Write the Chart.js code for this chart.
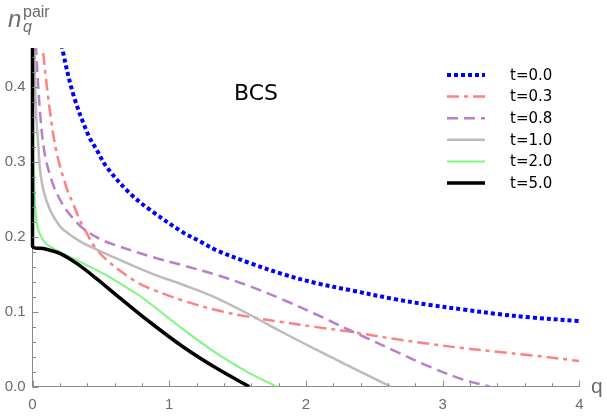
<!DOCTYPE html>
<html>
<head>
<meta charset="utf-8">
<script src="https://cdn.jsdelivr.net/npm/chart.js@4/dist/chart.umd.min.js"></script>
<style>
    body { margin: 0; background: #fff; }
    #wrap { width: 607px; height: 418px; }
</style>
</head>
<body>
<div id="wrap"><canvas id="myChart" width="607" height="418"></canvas></div>
<script>
/* ===============================
   DATA
=============================== */
const labels = ["t=0.0", "t=0.3", "t=0.8", "t=1.0", "t=2.0", "t=5.0"];

const q00 = [0.20, 0.218, 0.30, 0.408, 0.47, 0.543, 0.713, 0.86, 1.10, 1.225, 1.347, 1.59, 1.835, 2.08, 2.32, 2.66, 2.91, 3.15, 3.40, 3.64, 4.0];
const n00 = [0.475, 0.451, 0.389, 0.336, 0.316, 0.293, 0.258, 0.236, 0.206, 0.194, 0.182, 0.165, 0.150, 0.138, 0.129, 0.1165, 0.109, 0.103, 0.097, 0.0925, 0.0876];

const q03 = [0.065, 0.075, 0.128, 0.177, 0.25, 0.30, 0.347, 0.397, 0.445, 0.543, 0.74, 0.86, 1.10, 1.35, 1.59, 1.835, 2.08, 2.32, 2.42, 2.66, 2.91, 3.15, 3.40, 3.64, 4.0];
const n03 = [0.48, 0.451, 0.367, 0.312, 0.265, 0.243, 0.222, 0.205, 0.189, 0.169, 0.142, 0.131, 0.115, 0.102, 0.093, 0.086, 0.0795, 0.0735, 0.0705, 0.0635, 0.057, 0.0515, 0.0465, 0.042, 0.0343];

const q08 = [0.02, 0.026, 0.055, 0.091, 0.15, 0.20, 0.25, 0.32, 0.37, 0.494, 0.59, 0.86, 1.10, 1.35, 1.59, 1.835, 2.08, 2.176, 2.30, 2.42, 2.664, 2.908, 3.151, 3.347];
const n08 = [0.48, 0.451, 0.367, 0.309, 0.27, 0.25, 0.235, 0.22, 0.211, 0.197, 0.19, 0.174, 0.162, 0.149, 0.134, 0.116, 0.096, 0.088, 0.077, 0.067, 0.0465, 0.0265, 0.0095, 0.0];

const q10 = [0.008, 0.026, 0.043, 0.055, 0.08, 0.128, 0.20, 0.25, 0.347, 0.494, 0.86, 1.10, 1.35, 1.59, 1.835, 2.08, 2.20, 2.32, 2.42, 2.62];
const n10 = [0.48, 0.367, 0.32, 0.29, 0.262, 0.236, 0.214, 0.206, 0.194, 0.181, 0.152, 0.136, 0.118, 0.096, 0.072, 0.049, 0.038, 0.027, 0.018, 0.0];

const q20 = [0.002, 0.006, 0.015, 0.03, 0.055, 0.104, 0.20, 0.372, 0.567, 0.786, 0.86, 1.103, 1.347, 1.591, 1.786];
const n20 = [0.46, 0.30, 0.26, 0.22, 0.203, 0.19, 0.18, 0.1645, 0.146, 0.121, 0.111, 0.0765, 0.0445, 0.0178, 0.0];

const q50 = [0.0, 0.0, 0.079, 0.20, 0.323, 0.47, 0.616, 0.86, 1.103, 1.347, 1.586];
const n50 = [0.452, 0.188, 0.1845, 0.178, 0.1645, 0.144, 0.122, 0.086, 0.053, 0.0245, 0.0];

const xTicks = [0, 1, 2, 3, 4];
const yTicks = [0.0, 0.1, 0.2, 0.3, 0.4];

/* ===============================
   HELPERS
=============================== */
function pts(xs, ys) {
    return xs.map((x, i) => ({ x: x, y: ys[i] }));
}

const GRAY = "#6b6b6b";
const AXIS = "#8a8a8a";

/* ===============================
   PLUGINS
=============================== */
// inward tick marks, Mathematica style
const tickMarks = {
    id: "tickMarks",
    afterDraw(chart) {
        const c = chart.ctx;
        const xs = chart.scales.x;
        const ys = chart.scales.y;
        const area = chart.chartArea;
        c.save();
        c.strokeStyle = AXIS;
        c.lineWidth = 1;
        xs.ticks.forEach(t => {
            const px = Math.round(xs.getPixelForValue(t.value)) + 0.5;
            const major = xTicks.some(v => Math.abs(v - t.value) < 1e-6);
            c.beginPath();
            c.moveTo(px, area.bottom);
            c.lineTo(px, area.bottom - (major ? 6 : 3.5));
            c.stroke();
        });
        ys.ticks.forEach(t => {
            const py = Math.round(ys.getPixelForValue(t.value)) + 0.5;
            const major = yTicks.some(v => Math.abs(v - t.value) < 1e-6);
            c.beginPath();
            c.moveTo(area.left, py);
            c.lineTo(area.left + (major ? 6 : 3.5), py);
            c.stroke();
        });
        c.restore();
    }
};

// axis titles, BCS note and legend
const annotations = {
    id: "annotations",
    afterDraw(chart) {
        const c = chart.ctx;
        c.save();

        // y title n_q^pair
        c.fillStyle = GRAY;
        c.textBaseline = "alphabetic";
        c.font = "italic 24px 'Liberation Sans', Arial, sans-serif";
        c.fillText("n", 8, 27);
        c.font = "16px 'Liberation Sans', Arial, sans-serif";
        c.fillText("pair", 23, 17);
        c.font = "italic 16px 'Liberation Sans', Arial, sans-serif";
        c.fillText("q", 23, 32);

        // x title
        c.font = "21px 'Liberation Sans', Arial, sans-serif";
        c.fillText("q", 591, 393);

        // BCS
        c.fillStyle = "#000";
        c.font = "22px 'DejaVu Sans', sans-serif";
        c.textAlign = "center";
        c.textBaseline = "middle";
        c.fillText("BCS", 256, 94);

        // legend
        c.textAlign = "left";
        c.font = "15px 'DejaVu Sans', sans-serif";
        chart.data.datasets.forEach((ds, i) => {
            const y = 75 + i * 21.6;
            c.strokeStyle = ds.borderColor;
            c.lineWidth = ds.borderWidth;
            c.setLineDash(ds.borderDash || []);
            c.beginPath();
            c.moveTo(447, y);
            c.lineTo(485, y);
            c.stroke();
            c.setLineDash([]);
            c.fillStyle = "#000";
            c.fillText(ds.label, 510, y + 1);
        });

        c.restore();
    }
};

/* ===============================
   CHART
=============================== */
const ctx = document.getElementById("myChart");

const styles = [
    { color: "#0000ff", width: 4, dash: [4, 3] },
    { color: "#ff8080", width: 2.5, dash: [12, 5, 4, 5] },
    { color: "#b97fc9", width: 2.5, dash: [11, 6] },
    { color: "#bcbcbc", width: 2.5, dash: [] },
    { color: "#7ff77f", width: 2, dash: [] },
    { color: "#000000", width: 3.5, dash: [] }
];

const series = [pts(q00, n00), pts(q03, n03), pts(q08, n08), pts(q10, n10), pts(q20, n20), pts(q50, n50)];

const myChart = new Chart(ctx, {
    type: "line",
    data: {
        datasets: series.map((d, i) => ({
            label: labels[i],
            data: d,
            borderColor: styles[i].color,
            borderWidth: styles[i].width,
            borderDash: styles[i].dash,
            pointRadius: 0,
            fill: false,
            tension: 0.35,
            order: series.length - 1 - i,
            clip: i === 5 ? { left: 5, top: 0, right: 0, bottom: 0 } : 0
        }))
    },
    options: {
        responsive: false,
        animation: false,
        devicePixelRatio: 1,
        layout: { padding: { top: 48, right: 27.7, left: 0, bottom: 0 } },
        plugins: {
            legend: { display: false },
            tooltip: { enabled: false }
        },
        scales: {
            x: {
                type: "linear",
                min: 0,
                max: 4,
                afterBuildTicks: s => {
                    s.ticks = [];
                    for (let k = 0; k <= 20; k++) s.ticks.push({ value: k * 0.2 });
                },
                afterFit: s => { s.height = 31.3; },
                grid: { display: false, drawTicks: false },
                border: { display: true, color: AXIS, width: 1 },
                ticks: {
                    autoSkip: false,
                    maxRotation: 0,
                    padding: 9,
                    color: GRAY,
                    font: { family: "'Liberation Sans', Arial, sans-serif", size: 15 },
                    callback: v => xTicks.some(t => Math.abs(t - v) < 1e-6) ? String(Math.round(v)) : ""
                }
            },
            y: {
                type: "linear",
                min: 0,
                max: 0.452,
                afterBuildTicks: s => {
                    s.ticks = [];
                    for (let k = 0; k <= 22; k++) s.ticks.push({ value: k * 0.02 });
                },
                afterFit: s => { s.width = 32.5; },
                grid: { display: false, drawTicks: false },
                border: { display: true, color: AXIS, width: 1 },
                ticks: {
                    autoSkip: false,
                    padding: 7,
                    color: GRAY,
                    font: { family: "'Liberation Sans', Arial, sans-serif", size: 15 },
                    callback: v => yTicks.some(t => Math.abs(t - v) < 1e-6) ? v.toFixed(1) : ""
                }
            }
        }
    },
    plugins: [tickMarks, annotations]
});
</script>
</body>
</html>
